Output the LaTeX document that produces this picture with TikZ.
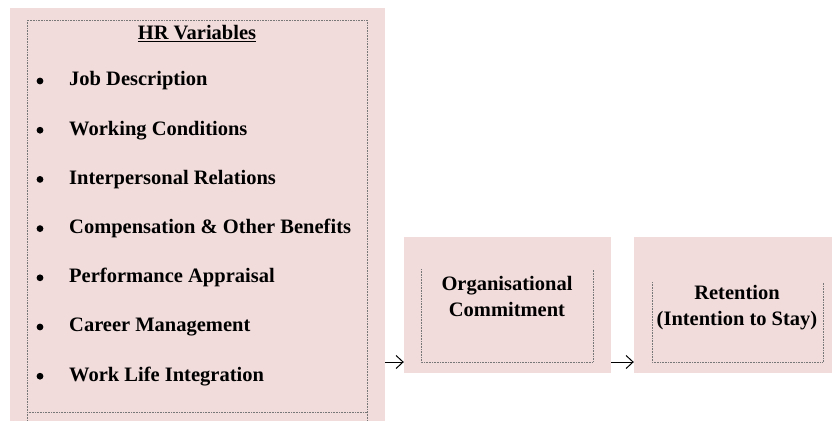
\documentclass[tikz,border=0pt]{standalone}
\usepackage{fontspec}
\setmainfont{Liberation Serif}
\usepackage{xcolor}
\usetikzlibrary{arrows.meta}
\definecolor{cpink}{HTML}{F2DCDB}
\definecolor{cdot}{HTML}{777777}
\tikzset{
  pinkbox/.style={fill=cpink, draw=none, inner sep=0pt},
  dotframe/.style={draw=cdot, densely dotted, line width=0.6pt},
  itemtext/.style={anchor=west, inner sep=0pt},
  boxtext/.style={align=center, inner sep=0pt},
  arr/.style={line width=1pt, -{Straight Barb[length=7pt,width=13pt]}}
}

\begin{document}
\begin{tikzpicture}[x=1pt,y=-1pt,font=\bfseries\fontsize{20.5}{26}\selectfont]
  \useasboundingbox (0,0) rectangle (832,421);
  % the three shaded boxes
  \node[pinkbox, minimum width=375pt, minimum height=413pt] (hr) at (197.5,214.5) {};
  \node[pinkbox, minimum width=207pt, minimum height=136pt] (oc) at (507.5,305) {};
  \node[pinkbox, minimum width=198pt, minimum height=136pt] (ret) at (733,305) {};
  % dotted inner frames
  \draw[dotframe] (27,20) rectangle (367,412);
  \draw[dotframe] (27,412) -- (27,421) (367,412) -- (367,421);
  \draw[dotframe] (421,269) -- (421,362) -- (593,362) -- (593,269);
  \draw[dotframe] (652,282) -- (652,362) -- (823,362) -- (823,282);
  % list of HR variables
  \node[boxtext] (title) at (197,34) {\underline{HR Variables}};
  \foreach \t [count=\i] in {Job Description, Working Conditions, Interpersonal Relations,
      Compensation \& Other Benefits, Performance Appraisal, Career Management, Work Life Integration} {
    \fill (40,{81+49.2*(\i-1)}) circle (3.4pt);
    \node[itemtext] (v\i) at (69,{81+49.2*(\i-1)}) {\t};}
  \node[boxtext] (octext) at (507,296) {Organisational\\Commitment};
  \node[boxtext] (rettext) at (737,308) {Retention\\(Intention to Stay)};
  % connectors
  \coordinate (a1) at (383,362);
  \draw[arr] (hr.east |- a1) -- (a1 -| oc.west);
  \draw[arr] (oc.east |- a1) -- (a1 -| ret.west);
\end{tikzpicture}
\end{document}
